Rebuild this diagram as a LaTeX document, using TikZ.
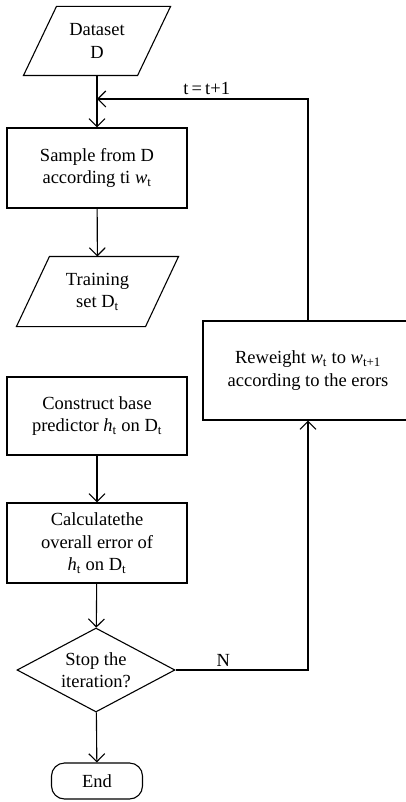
\documentclass[tikz,border=0pt]{standalone}
\usepackage{fontspec}
\setmainfont{Liberation Serif}
\usetikzlibrary{shapes.geometric}
\usetikzlibrary{arrows.meta}

\begin{document}
\begin{tikzpicture}[x=1pt,y=-1pt,line width=1.1pt,
	font=\fontsize{18.5}{22.5}\selectfont,
	box/.style={draw,rectangle,minimum width=180pt,align=center,inner sep=0pt},
	io/.style={rectangle,align=center,inner sep=0pt},
	arr/.style={-{Straight Barb[length=8pt,width=16pt]}}]
	\useasboundingbox (0,0) rectangle (406,802);

	%LEFT COLUMN
	\node[io,minimum width=113pt,minimum height=68pt] (data) at (97,41) {Dataset\\D};
	\node[box,minimum height=80pt] (sample) at (97,168) {Sample from D\\according ti \textit{w}\textsubscript{t}};
	\node[io,minimum width=128pt,minimum height=69pt] (train) at (97.5,291.5) {Training\\set D\textsubscript{t}};
	\node[box,minimum height=78pt] (construct) at (97,416) {Construct base\\predictor \textit{h}\textsubscript{t} on D\textsubscript{t}};
	\node[box,minimum height=80pt] (calc) at (97,543) {Calculatethe\\overall error of\\\textit{h}\textsubscript{t} on D\textsubscript{t}};
	\node[draw,diamond,aspect=1.88,inner sep=0pt,minimum width=158pt,minimum height=84pt,align=center] (stop) at (96,670) {Stop the\\iteration?};
	\node[draw,rounded corners=13pt,minimum width=91pt,minimum height=36pt] (finish) at (97,781) {End};

	%SLANTED SIDES OF THE DATA NODES
	\foreach \n in {data,train}{
		\draw ([xshift=-16.5pt]\n.south west) -- ([xshift=-16.5pt]\n.south east) -- ([xshift=16.5pt]\n.north east) -- ([xshift=16.5pt]\n.north west) -- cycle;
	}

	%RIGHT BOX
	\node[box,minimum width=210pt,minimum height=99pt] (reweight) at (308,370.5) {Reweight \textit{w}\textsubscript{t} to \textit{w}\textsubscript{t+1}\\according to the erors};

	\foreach \a/\b in {data/sample,sample/train,construct/calc,calc/stop,stop/finish}{
		\draw[arr] (\a) -- (\b);
	}

	%FEEDBACK LOOP
	\coordinate (join) at (97,99);
	\draw[arr] (stop.east) -| node[pos=0.18,above] {N} (reweight.south);
	\draw[arr] (reweight.north) |- node[pos=0.74,above] {t\,=\,t+1} (join);
\end{tikzpicture}
\end{document}
